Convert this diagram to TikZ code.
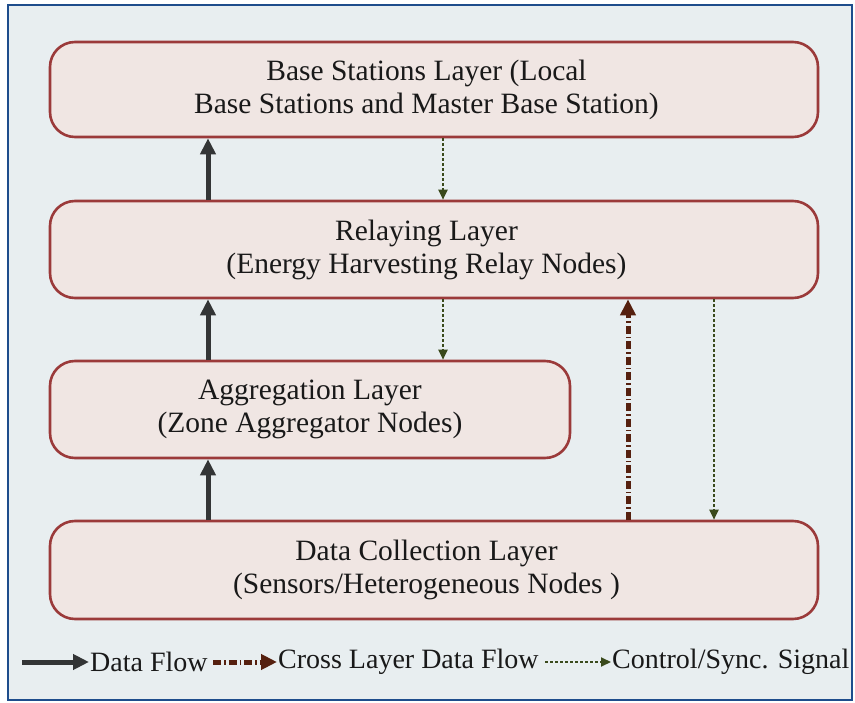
\documentclass[tikz,border=0pt]{standalone}
\usepackage{fontspec}
\setmainfont{Liberation Serif}
\usetikzlibrary{arrows.meta}
\definecolor{framec}{HTML}{1E4D8C}
\definecolor{bgc}{HTML}{E8EEF0}
\definecolor{boxfill}{HTML}{F0E6E3}
\definecolor{boxline}{HTML}{9B3A3A}
\definecolor{datac}{HTML}{333536}
\definecolor{crossc}{HTML}{55200F}
\definecolor{ctrlc}{HTML}{3A4A1C}
\newcommand{\shl}{\hspace*{15pt}}
\tikzset{
  layer/.style={draw=boxline, line width=2.6pt, fill=boxfill, rounded corners=25pt,
    align=center, font=\fontsize{29.5}{33}\selectfont, text=black!90},
  dataflow/.style={draw=datac, line width=5pt, -{Triangle[length=16pt,width=15pt]}},
  crossflow/.style={draw=crossc, line width=5pt, dash pattern=on 8pt off 3pt on 1.5pt off 3pt, -{Triangle[length=16pt,width=15pt]}},
  ctrlflow/.style={draw=ctrlc, line width=2pt, dash pattern=on 3pt off 2pt, -{Triangle[length=10pt,width=9pt]}},
  legtext/.style={font=\fontsize{28}{33}\selectfont, text=black!90, inner sep=0pt, anchor=west}
}
\begin{document}
\begin{tikzpicture}[x=1pt,y=-1pt]
\useasboundingbox (0,0) rectangle (855,703);
\draw[framec, line width=2.5pt, fill=bgc] (8,5) rectangle (852,700);
\node[layer, minimum width=768pt, minimum height=95pt] (base) at (434,89.5) {Base Stations Layer (Local\shl\\Base Stations and Master Base Station)\shl};
\node[layer, minimum width=768pt, minimum height=97pt] (relay) at (434,249.5) {Relaying Layer\shl\\(Energy Harvesting Relay Nodes)\shl};
\node[layer, minimum width=520pt, minimum height=97pt] (agg) at (310,409.5) {Aggregation Layer\\(Zone Aggregator Nodes)};
\node[layer, minimum width=768pt, minimum height=98pt] (data) at (434,570) {Data Collection Layer\shl\\(Sensors/Heterogeneous Nodes )\shl};
\coordinate (xd) at (208,0);
\coordinate (xc) at (443,0);
\coordinate (xx) at (628,0);
\coordinate (xr) at (714,0);
\draw[dataflow] (relay.north -| xd) -- (base.south -| xd);
\draw[dataflow] (agg.north -| xd) -- (relay.south -| xd);
\draw[dataflow] (data.north -| xd) -- (agg.south -| xd);
\draw[ctrlflow] (base.south -| xc) -- (relay.north -| xc);
\draw[ctrlflow] (relay.south -| xc) -- (agg.north -| xc);
\draw[ctrlflow] (relay.south -| xr) -- (data.north -| xr);
\draw[crossflow] (data.north -| xx) -- (relay.south -| xx);
% legend
\coordinate (l1a) at (22,662);
\coordinate (l1b) at (89,662);
\node[legtext] (t1) at (90,662) {Data Flow};
\coordinate (l2a) at (213,662);
\coordinate (l2b) at (277,662);
\node[legtext] (t2) at (278,662) {Cross Layer Data Flow};
\coordinate (l3a) at (545,662);
\coordinate (l3b) at (611,662);
\node[legtext] (t3) at (612,662) {Control/Sync. Signal};
\draw[dataflow] (l1a) -- (l1b);
\draw[crossflow] (l2a) -- (l2b);
\draw[ctrlflow] (l3a) -- (l3b);
\end{tikzpicture}
\end{document}
